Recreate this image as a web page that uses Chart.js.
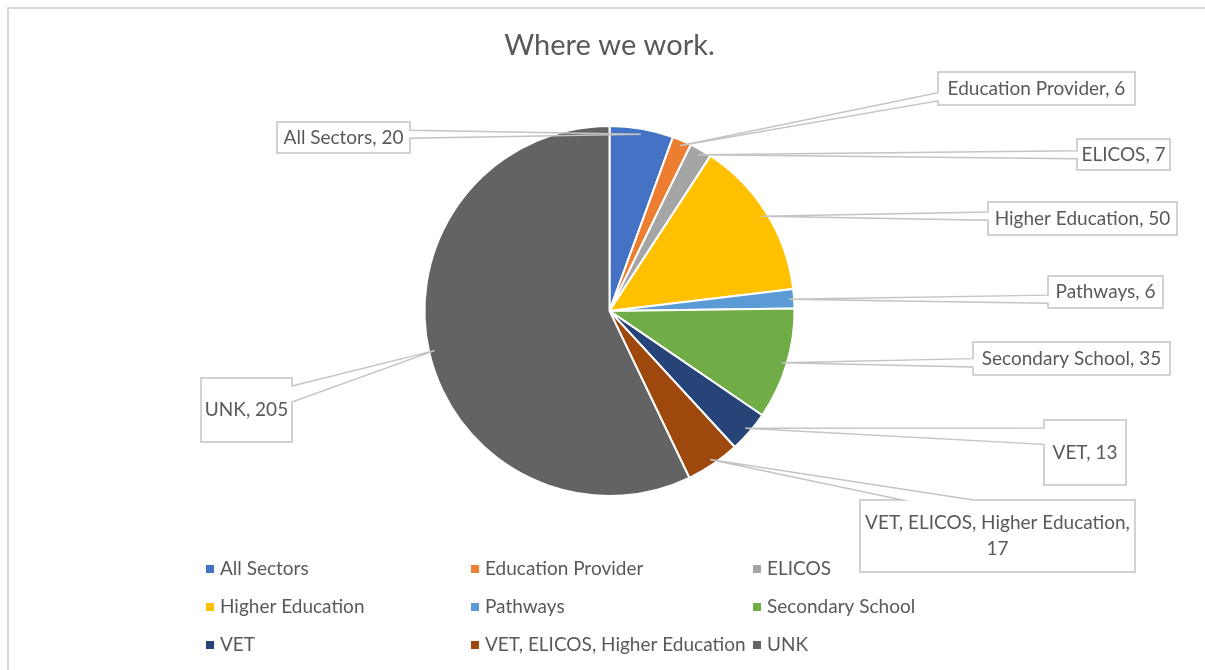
<!DOCTYPE html>
<html>
<head>
<meta charset="utf-8">
<title>Where we work.</title>
<script src="https://cdn.jsdelivr.net/npm/chart.js@4.4.1/dist/chart.umd.min.js"></script>
<style>
    html, body { margin: 0; padding: 0; background: #fff; }
    .chart-wrapper { position: relative; width: 1205px; height: 670px; }
</style>
</head>
<body>
<div class="chart-wrapper"><canvas id="chart"></canvas></div>
<script>
const categories = [
    'All Sectors',
    'Education Provider',
    'ELICOS',
    'Higher Education',
    'Pathways',
    'Secondary School',
    'VET',
    'VET, ELICOS, Higher Education',
    'UNK'
];
const counts = [20, 6, 7, 50, 6, 35, 13, 17, 205];
const sliceColors = ['#4472c4', '#ed7d31', '#a5a5a5', '#ffc000', '#5b9bd5', '#70ad47', '#264478', '#9e480e', '#636363'];

// where each callout box sits (layout only), same order as categories
const calloutBoxes = [
    { x: 277, y: 122, w: 133, h: 31, side: 'r' },
    { x: 938, y: 72, w: 197, h: 33, side: 'l' },
    { x: 1077, y: 139, w: 93, h: 31, side: 'l' },
    { x: 988, y: 202, w: 189, h: 33, side: 'l' },
    { x: 1048, y: 276, w: 115, h: 32, side: 'l' },
    { x: 973, y: 342, w: 197, h: 33, side: 'l' },
    { x: 1044, y: 420, w: 82, h: 65, side: 'l' },
    { x: 860, y: 500, w: 275, h: 72, side: 't' },
    { x: 201, y: 378, w: 91, h: 64, side: 'r' }
];

// legend grid
const legendCols = [206, 471, 753];
const legendRows = [569, 607, 645];

const textColor = '#595959';
const lineColor = '#c4c4c4';
const fontFamily = 'Lato, "Open Sans", sans-serif';
const labelSize = 19;

function wrapText(ctx, text, maxWidth) {
    const words = text.split(' ');
    const lines = [];
    let line = '';
    words.forEach(word => {
        const test = line ? line + ' ' + word : word;
        if (line && ctx.measureText(test).width > maxWidth) {
            lines.push(line);
            line = word;
        } else {
            line = test;
        }
    });
    if (line) lines.push(line);
    return lines;
}

// grey frame on top and left, like the pasted Excel chart
const framePlugin = {
    id: 'frame',
    beforeDraw(chart) {
        const ctx = chart.ctx;
        ctx.save();
        ctx.strokeStyle = '#d9d9d9';
        ctx.lineWidth = 2;
        ctx.beginPath();
        ctx.moveTo(8, chart.height);
        ctx.lineTo(8, 8);
        ctx.lineTo(chart.width, 8);
        ctx.stroke();
        ctx.restore();
    }
};

const calloutPlugin = {
    id: 'callouts',
    afterDatasetsDraw(chart) {
        const ctx = chart.ctx;
        const arcs = chart.getDatasetMeta(0).data;
        const values = chart.data.datasets[0].data;
        ctx.save();
        ctx.font = labelSize + 'px ' + fontFamily;
        arcs.forEach((arc, i) => {
            const box = calloutBoxes[i];
            const p = arc.getProps(['x', 'y', 'startAngle', 'endAngle', 'outerRadius'], true);
            const mid = (p.startAngle + p.endAngle) / 2;
            const ax = p.x + Math.cos(mid) * p.outerRadius * 0.97;
            const ay = p.y + Math.sin(mid) * p.outerRadius * 0.97;
            const { x, y, w, h, side } = box;

            ctx.fillStyle = '#fff';
            ctx.fillRect(x, y, w, h);

            ctx.beginPath();
            if (side === 't') {
                const cx = x + w / 2;
                const dx = Math.max(-w / 4, Math.min(w / 4, ax - cx));
                const half = Math.max(4, w / 8);
                ctx.moveTo(x, y);
                ctx.lineTo(cx + dx - half + 8, y);
                ctx.lineTo(ax, ay);
                ctx.lineTo(cx + dx + half + 10, y);
                ctx.lineTo(x + w, y);
                ctx.lineTo(x + w, y + h);
                ctx.lineTo(x, y + h);
                ctx.closePath();
            } else {
                const cy = y + h / 2;
                const dy = Math.max(-h / 4, Math.min(h / 4, ay - cy));
                const half = Math.max(4, h / 8);
                const b1 = cy + dy - half;
                const b2 = cy + dy + half;
                if (side === 'l') {
                    ctx.moveTo(x, y);
                    ctx.lineTo(x + w, y);
                    ctx.lineTo(x + w, y + h);
                    ctx.lineTo(x, y + h);
                    ctx.lineTo(x, b2);
                    ctx.lineTo(ax, ay);
                    ctx.lineTo(x, b1);
                    ctx.closePath();
                } else {
                    ctx.moveTo(x, y);
                    ctx.lineTo(x + w, y);
                    ctx.lineTo(x + w, b1);
                    ctx.lineTo(ax, ay);
                    ctx.lineTo(x + w, b2);
                    ctx.lineTo(x + w, y + h);
                    ctx.lineTo(x, y + h);
                    ctx.closePath();
                }
            }
            ctx.strokeStyle = lineColor;
            ctx.lineWidth = 1.5;
            ctx.stroke();

            const label = chart.data.labels[i] + ', ' + values[i];
            const lines = wrapText(ctx, label, w);
            const lh = 26;
            ctx.fillStyle = textColor;
            ctx.textAlign = 'center';
            ctx.textBaseline = 'middle';
            const top = y + h / 2 - (lines.length - 1) * lh / 2;
            lines.forEach((t, k) => ctx.fillText(t, x + w / 2, top + k * lh));
        });
        ctx.restore();
    }
};

const legendPlugin = {
    id: 'gridLegend',
    afterDraw(chart) {
        const ctx = chart.ctx;
        const colors = chart.data.datasets[0].backgroundColor;
        ctx.save();
        ctx.font = labelSize + 'px ' + fontFamily;
        ctx.textBaseline = 'middle';
        ctx.textAlign = 'left';
        chart.data.labels.forEach((label, i) => {
            const lx = legendCols[i % 3];
            const ly = legendRows[Math.floor(i / 3)];
            ctx.fillStyle = colors[i];
            ctx.fillRect(lx, ly - 4, 8, 8);
            ctx.fillStyle = textColor;
            ctx.fillText(label, lx + 14, ly);
        });
        ctx.restore();
    }
};

function drawChart() {
    new Chart(document.getElementById('chart'), {
        type: 'pie',
        data: {
            labels: categories,
            datasets: [{
                data: counts,
                backgroundColor: sliceColors,
                borderColor: '#ffffff',
                borderWidth: 2,
                radius: 185
            }]
        },
        options: {
            responsive: true,
            maintainAspectRatio: false,
            animation: false,
            layout: {
                padding: { left: 14, right: 0, top: 0, bottom: 111 }
            },
            plugins: {
                legend: { display: false },
                tooltip: { enabled: false },
                title: {
                    display: true,
                    text: 'Where we work.',
                    color: textColor,
                    font: { family: fontFamily, size: 29, weight: 'normal', lineHeight: 1.2 },
                    padding: { top: 28, bottom: 0 }
                }
            }
        },
        plugins: [framePlugin, calloutPlugin, legendPlugin]
    });
}

Promise.all([
    document.fonts.load('19px Lato'),
    document.fonts.load('29px Lato')
]).catch(() => {}).then(drawChart);
</script>
</body>
</html>
